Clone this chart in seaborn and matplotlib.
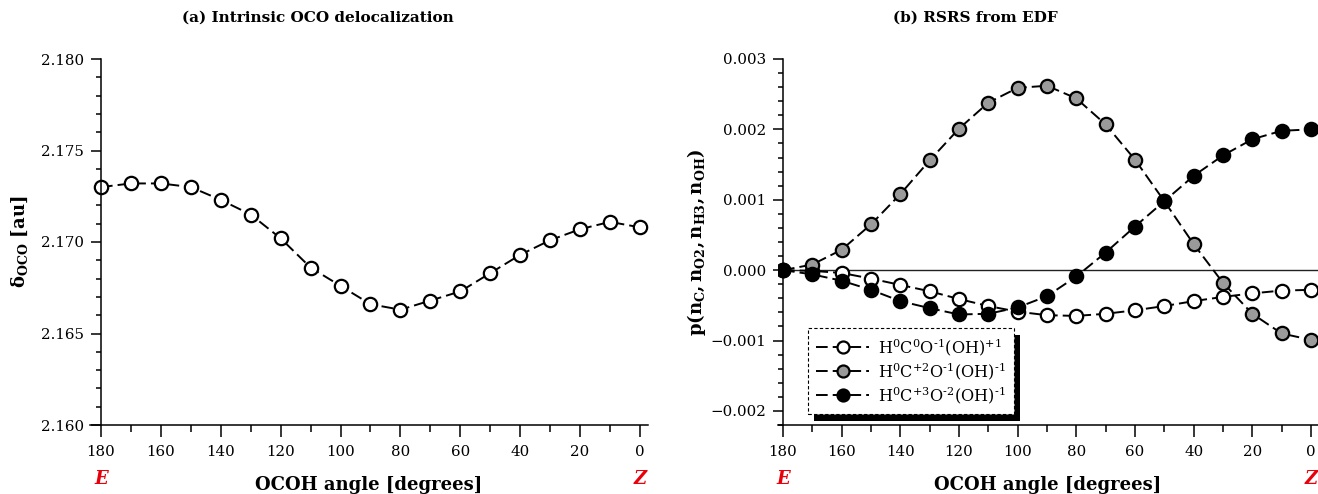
import matplotlib
matplotlib.use("Agg")
import matplotlib.pyplot as plt
import seaborn as sns
import pandas as pd
from matplotlib.ticker import MultipleLocator, FuncFormatter
from matplotlib.patches import Rectangle
from matplotlib.transforms import IdentityTransform

# ---------------- data ----------------
angles = [180, 170, 160, 150, 140, 130, 120, 110, 100, 90, 80, 70, 60, 50, 40, 30, 20, 10, 0]
delta_oco = [2.1730, 2.1732, 2.1732, 2.1730, 2.1723, 2.1715, 2.1702, 2.1686, 2.1676, 2.1666,
             2.1663, 2.1668, 2.1673, 2.1683, 2.1693, 2.1701, 2.1707, 2.1711, 2.1708]
p_c0 = [0.0, -0.00001, -0.00004, -0.00012, -0.00021, -0.00030, -0.00041, -0.00051, -0.00059, -0.00064,
        -0.00065, -0.00062, -0.00057, -0.00051, -0.00044, -0.00038, -0.00033, -0.00029, -0.00028]
p_c2 = [0.0, 0.00008, 0.00029, 0.00065, 0.00108, 0.00156, 0.00201, 0.00238, 0.00259, 0.00262,
        0.00244, 0.00207, 0.00157, 0.00098, 0.00037, -0.00018, -0.00062, -0.00090, -0.00099]
p_c3 = [0.0, -0.00006, -0.00015, -0.00028, -0.00044, -0.00054, -0.00063, -0.00062, -0.00053, -0.00037,
        -0.00009, 0.00025, 0.00062, 0.00098, 0.00134, 0.00163, 0.00186, 0.00198, 0.00200]
series_labels = [r"H$^{0}$C$^{0}$O$^{\text{-}1}$(OH)$^{+1}$",
                 r"H$^{0}$C$^{+2}$O$^{\text{-}1}$(OH)$^{\text{-}1}$",
                 r"H$^{0}$C$^{+3}$O$^{\text{-}2}$(OH)$^{\text{-}1}$"]
series_fill = ["white", "#9a9a9a", "black"]
titles = ["(a) Intrinsic OCO delocalization", "(b) RSRS from EDF"]
xlabel = "OCOH angle [degrees]"

# ---------------- style ----------------
sns.set_theme(style="ticks")
plt.rcParams["font.family"] = ["DejaVu Serif"]
plt.rcParams["mathtext.fontset"] = "dejavuserif"
plt.rcParams["text.color"] = "black"
plt.rcParams["axes.labelcolor"] = "black"

W, H = 1318, 494
fig = plt.figure(figsize=(W / 100, H / 100), dpi=100)
axL = fig.add_axes([90 / W, 1 - 425 / H, 558 / W, 366 / H])
axR = fig.add_axes([778 / W, 1 - 425 / H, 540 / W, 366 / H])

line_kw = dict(color="black", linewidth=1.4, linestyle=(0, (6, 2.6)),
               marker="o", markersize=9.6, markeredgewidth=1.6,
               markeredgecolor="black", sort=False, estimator=None)

dfL = pd.DataFrame({"angle": angles, "delta": delta_oco})
sns.lineplot(data=dfL, x="angle", y="delta", ax=axL, markerfacecolor="white", **line_kw)

dfR = pd.DataFrame({"angle": angles, "c0": p_c0, "c2": p_c2, "c3": p_c3})
axR.axhline(0, color="#222222", linewidth=1.0, zorder=1, xmin=5 / 540)
for col, lab, fc in zip(["c0", "c2", "c3"], series_labels, series_fill):
    sns.lineplot(data=dfR, x="angle", y=col, ax=axR, markerfacecolor=fc, label=lab, **line_kw)

minus = lambda v, p: ("%.3f" % v).replace("-", "\u2212")

for ax, xl, yl, ymaj, ymin in [(axL, (183.67, -2.67), (2.160, 2.180), 0.005, 0.001),
                                (axR, (181.7, -2.39), (-0.0022, 0.003), 0.001, 0.0002)]:
    ax.set_xlim(*xl)
    ax.set_ylim(*yl)
    ax.spines["top"].set_visible(False)
    ax.spines["right"].set_visible(False)
    ax.spines["left"].set_position(("data", 180))
    for s in ("left", "bottom"):
        ax.spines[s].set_linewidth(1.1)
        ax.spines[s].set_color("black")
    ax.xaxis.set_major_locator(MultipleLocator(20))
    ax.xaxis.set_minor_locator(MultipleLocator(10))
    ax.yaxis.set_major_locator(MultipleLocator(ymaj))
    ax.yaxis.set_minor_locator(MultipleLocator(ymin))
    ax.yaxis.set_major_formatter(FuncFormatter(minus))
    ax.tick_params(axis="both", which="both", direction="out", width=1.1, color="black",
                   labelsize=10.8, labelcolor="black")
    ax.tick_params(axis="y", which="major", length=7, pad=5)
    ax.tick_params(axis="y", which="minor", length=3.6)
    ax.tick_params(axis="x", which="major", length=8.5, pad=6)
    ax.tick_params(axis="x", which="minor", length=5)
    ax.set_xlabel(xlabel, fontsize=13, fontweight="bold")
    ax.xaxis.set_label_coords(0.5, (425 - 485) / 366)
    ax.xaxis.label.set_va("center")
    tr = ax.get_xaxis_transform()
    for xv, t in [(180, "E"), (0, "Z")]:
        ax.text(xv, (425 - 479) / 366, t, transform=tr, ha="center", va="center",
                color="#e8000b", fontsize=13, fontweight="bold", fontstyle="italic")

axL.set_ylabel("\u03b4" + r"$_{\mathbf{OCO}}$ [au]", fontsize=13, fontweight="bold")
axL.yaxis.set_label_coords((20 - 90) / 558, 0.5)
axL.yaxis.label.set_va("center")
axR.set_ylabel(r"$\mathbf{p(n_{C},n_{O2},n_{H3},n_{OH})}$", fontsize=13)
axR.yaxis.set_label_coords((697 - 778) / 540, 0.5)
axR.yaxis.label.set_va("center")

fig.text(318 / W, 1 - 18 / H, titles[0], ha="center", va="center", fontsize=11, fontweight="bold")
fig.text(975 / W, 1 - 18 / H, titles[1], ha="center", va="center", fontsize=11, fontweight="bold")

leg = axR.legend(loc="upper left", bbox_to_anchor=(808 / W, 1 - 328 / H),
                 bbox_transform=fig.transFigure, borderaxespad=0, fancybox=False,
                 framealpha=1, edgecolor="black", fontsize=11.6, handlelength=3.3,
                 handletextpad=0.55, borderpad=0.5, labelspacing=0.14, markerscale=0.9)
leg.get_frame().set_linestyle((0, (3, 2)))
leg.get_frame().set_linewidth(0.8)
leg.set_zorder(6)

fig.canvas.draw()
bb = leg.get_frame().get_window_extent(fig.canvas.get_renderer())
shadow = Rectangle((bb.x0 + 6, bb.y0 - 7), bb.width, bb.height, transform=IdentityTransform(),
                   facecolor="black", edgecolor="none", zorder=5.5, clip_on=False)
axR.add_artist(shadow)

fig.savefig("out.png", dpi=100)
